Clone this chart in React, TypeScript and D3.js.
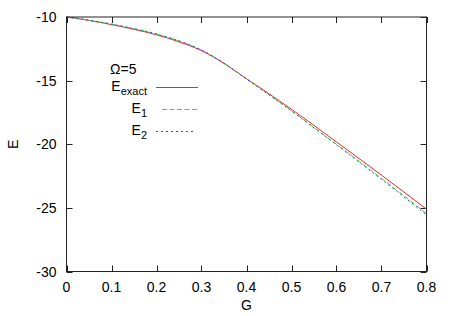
import React from "react";
import * as d3 from "d3";

const gValues = [0, 0.05, 0.1, 0.15, 0.2, 0.25, 0.3, 0.35, 0.4, 0.45, 0.5, 0.55, 0.6, 0.65, 0.7, 0.75, 0.8];
const eExact = [-10, -10.27, -10.6, -10.97, -11.4, -11.95, -12.65, -13.65, -14.85, -16.03, -17.25, -18.52, -19.82, -21.12, -22.43, -23.76, -25.1];
const eOne = [-10, -10.25, -10.56, -10.92, -11.34, -11.88, -12.6, -13.62, -14.86, -16.1, -17.37, -18.68, -20.0, -21.33, -22.68, -24.05, -25.45];
const eTwo = [-10, -10.25, -10.56, -10.92, -11.34, -11.88, -12.6, -13.63, -14.88, -16.12, -17.4, -18.72, -20.05, -21.4, -22.76, -24.14, -25.55];

const xTicks = [0, 0.1, 0.2, 0.3, 0.4, 0.5, 0.6, 0.7, 0.8];
const yTicks = [-10, -15, -20, -25, -30];

const W = 452;
const H = 316;
const L = 66.5, R = 426.5, T = 17, B = 271.5;
const FONT = "'Liberation Sans', Arial, Helvetica, sans-serif";

export default function App() {
  const x = d3.scaleLinear().domain([0, 0.8]).range([L, R]);
  const y = d3.scaleLinear().domain([-30, -10]).range([B, T]);
  const line = d3
    .line<[number, number]>()
    .x((d) => x(d[0]))
    .y((d) => y(d[1]))
    .curve(d3.curveMonotoneX);
  const mk = (arr: number[]) => line(gValues.map((g, i) => [g, arr[i]] as [number, number])) || "";

  const series = [
    { name: "exact", data: eExact, color: "#ff2020", dash: "none", ly: 87.5, x0: 156, x1: 198 },
    { name: "1", data: eOne, color: "#30e030", dash: "5,2.5", ly: 109.5, x0: 162, x1: 198 },
    { name: "2", data: eTwo, color: "#4040ff", dash: "2,3", ly: 131.5, x0: 156, x1: 196 },
  ];
  const tick = 6;
  const axisColor = "#222";

  return (
    <svg width={W} height={H} style={{ position: "absolute", left: 0, top: 0, background: "#fff" }} fontFamily={FONT}>
      <rect x={0} y={0} width={W} height={H} fill="#fff" />
      {xTicks.map((t) => (
        <g key={"x" + t}>
          <line x1={Math.round(x(t)) + 0.5} x2={Math.round(x(t)) + 0.5} y1={B} y2={B - tick} stroke={axisColor} />
          <line x1={Math.round(x(t)) + 0.5} x2={Math.round(x(t)) + 0.5} y1={T} y2={T + tick} stroke={axisColor} />
          <text x={x(t)} y={291.7} fontSize={14} textAnchor="middle" fill="#000">
            {t === 0 ? "0" : t.toFixed(1)}
          </text>
        </g>
      ))}
      {yTicks.map((t) => (
        <g key={"y" + t}>
          <line x1={L} x2={L + tick} y1={Math.round(y(t)) + 0.5} y2={Math.round(y(t)) + 0.5} stroke={axisColor} />
          <line x1={R} x2={R - tick} y1={Math.round(y(t)) + 0.5} y2={Math.round(y(t)) + 0.5} stroke={axisColor} />
          <text x={56.5} y={y(t) + 5.2} fontSize={14} textAnchor="end" fill="#000">
            {t}
          </text>
        </g>
      ))}
      {series.map((s) => (
        <path key={s.name} d={mk(s.data)} fill="none" stroke={s.color} strokeWidth={1} strokeDasharray={s.dash} />
      ))}
      <rect x={L} y={T} width={R - L} height={B - T} fill="none" stroke={axisColor} strokeWidth={1} />
      <text x={110} y={74} fontSize={14} fill="#000">Ω=5</text>
      {series.map((s) => (
        <g key={"lg" + s.name}>
          <text x={147} y={s.ly + 3.5} fontSize={14} textAnchor="end" fill="#000">
            E
            <tspan fontSize={11} dy={4}>{s.name}</tspan>
          </text>
          <line x1={s.x0} x2={s.x1} y1={s.ly} y2={s.ly} stroke={s.color} strokeWidth={1} strokeDasharray={s.dash} />
        </g>
      ))}
      <text x={(L + R) / 2} y={309.5} fontSize={14} textAnchor="middle" fill="#000">G</text>
      <text transform={`translate(18, ${(T + B) / 2}) rotate(-90)`} fontSize={14} textAnchor="middle" fill="#000">E</text>
    </svg>
  );
}
